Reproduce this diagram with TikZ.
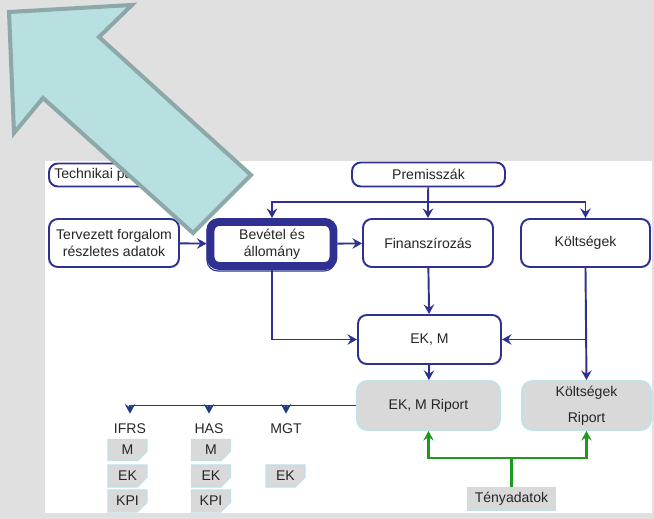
\documentclass[tikz,border=0pt]{standalone}
\usepackage{fontspec}
\setmainfont{Liberation Sans}
\usetikzlibrary{arrows.meta,shapes.misc}
\definecolor{boxBlue}{HTML}{2E3192}
\definecolor{navyLine}{HTML}{1F3A80}
\definecolor{repGray}{HTML}{D9D9D9}
\definecolor{repEdge}{HTML}{BFE1E8}
\definecolor{factGreen}{HTML}{1E9A1E}
\definecolor{bgGray}{HTML}{E0E0E0}
\definecolor{hintFill}{HTML}{B9E0E1}
\definecolor{hintEdge}{HTML}{8DA8A8}
\definecolor{txtGray}{HTML}{262626}
\tikzset{plan box/.style={draw=boxBlue, line width=1.1pt, rounded corners=5pt, fill=white,
		align=center, inner sep=0pt, text=txtGray}}
\tikzset{report box/.style={draw=repEdge, line width=1.1pt, rounded corners=6pt, fill=repGray,
		align=center, inner sep=0pt, text=txtGray}}
\tikzset{std tag/.style={inner sep=0pt, minimum height=0.6cm, text=txtGray}}
\tikzset{item box/.style={chamfered rectangle, chamfered rectangle corners=south east,
		chamfered rectangle xsep=2pt, draw=repEdge, fill=repGray, line width=0.6pt,
		minimum width=0.78cm, minimum height=0.38cm, inner sep=0pt, text=txtGray}}
\tikzset{flow/.style={boxBlue, line width=1.1pt}}
\begin{document}
\begin{tikzpicture}[->,>={Stealth[length=5.5pt,width=6pt,inset=2pt]},x=0.02cm,y=-0.02cm,
					font=\fontsize{8}{9.6}\selectfont]
					\useasboundingbox (0,0) rectangle (654,519);
					\fill[bgGray] (0,0) rectangle (654,519);
					\fill[white] (45,161) rectangle (652,513);
					% top row
					\node[plan box, minimum width=3.04cm, minimum height=0.46cm] at (125,175) (tech) {Technikai paraméterek};
					\node[plan box, minimum width=3.06cm, minimum height=0.48cm] at (428.5,174.5) (prem) {Premisszák};
					\node[plan box, minimum width=2.6cm, minimum height=0.96cm] at (114,243) (terv) {Tervezett forgalom\\részletes adatok};
					\draw[boxBlue, line width=0.6pt, rounded corners=6pt, -] (207,219) rectangle (335,271);
					\node[plan box, line width=4.5pt, minimum width=2.46cm, minimum height=0.88cm] at (272,244) (bev) {Bevétel és\\állomány};
					\node[plan box, minimum width=2.6cm, minimum height=0.96cm] at (428,243) (fin) {Finanszírozás};
					\node[plan box, minimum width=2.58cm, minimum height=0.96cm] at (585.5,243) (kolt) {Költségek};
					\node[plan box, minimum width=2.86cm, minimum height=0.98cm] at (429.5,339.5) (ekm) {EK, M};
					% reports
					\node[report box, minimum width=2.86cm, minimum height=0.98cm] at (428.5,405.5) (ekmrip) {EK, M Riport};
					\node[report box, minimum width=2.58cm, minimum height=0.98cm] at (586.5,405.5) (krip) {Költségek\\[5pt]Riport};
					\node[report box, rounded corners=0pt, minimum width=1.76cm, minimum height=0.46cm] at (511.5,499) (teny) {Tényadatok};
					% standards
					\node[std tag] at (130,429) (ifrs) {IFRS};
					\node[std tag] at (209,429) (has) {HAS};
					\node[std tag] at (286,429) (mgt) {MGT};
					\node[item box] at (127.5,450) (ifrsM) {M};
					\node[item box] at (127.5,476) (ifrsEK) {EK};
					\node[item box] at (127.5,501) (ifrsKPI) {KPI};
					\node[item box] at (211,450) (hasM) {M};
					\node[item box] at (211,476) (hasEK) {EK};
					\node[item box] at (211,501) (hasKPI) {KPI};
					\node[item box] at (285.5,476) (mgtEK) {EK};
					% blue flows
					\coordinate (split) at (428,202);
					\draw[flow,-] (prem) -- (split);
					\draw[flow] (split) -| (bev.north);
					\draw[flow] (split) -- (fin.north);
					\draw[flow] (split) -| (kolt.north);
					\path (terv) edge[flow] (bev);
					\path (bev) edge[flow] (fin);
					\draw[flow] (bev.south) |- (ekm.west);
					\path (fin) edge[flow] (ekm);
					\draw[flow] (kolt.south) -- (krip.north);
					\draw[flow] (kolt |- ekm.east) -- (ekm.east);
					\path (ekm) edge[flow] (ekmrip);
					% to the standards
					\draw[navyLine, line width=1pt, -] (ekmrip.west) -- (ifrs.north |- ekmrip.west);
					\draw[navyLine, line width=1pt] (ifrs.north |- ekmrip.west) -- (ifrs.north);
					\draw[navyLine, line width=1pt] (has.north |- ekmrip.west) -- (has.north);
					\draw[navyLine, line width=1pt] (mgt.north |- ekmrip.west) -- (mgt.north);
					% actuals
					\coordinate (gsplit) at (511.5,458);
					\draw[factGreen, line width=1.3pt, -] (teny) -- (gsplit);
					\draw[factGreen, line width=1.3pt] (gsplit) -| (ekmrip.south);
					\draw[factGreen, line width=1.3pt] (gsplit) -| (krip.south);
					% big pointer
					\filldraw[fill=hintFill, draw=hintEdge, line width=2.3pt, line join=miter, -]
						(9,12) -- (132,5) -- (99,37) -- (251,175) -- (193,233) -- (43,98) -- (14,133) -- cycle;
				\end{tikzpicture}
\end{document}
